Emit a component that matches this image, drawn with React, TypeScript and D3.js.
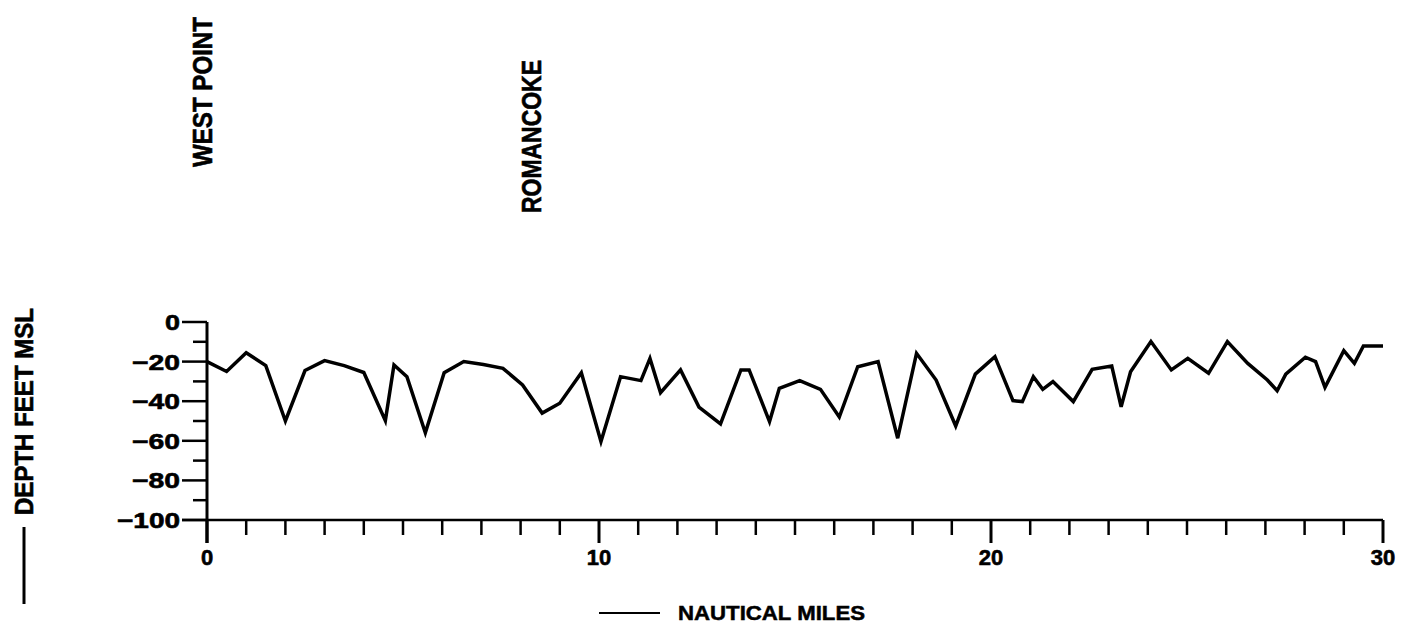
import * as d3 from 'd3';

// river profile: nautical miles from West Point vs. depth (feet, MSL)
const miles = [
  0, 0.5, 1.0, 1.5, 2.0, 2.5, 3.0, 3.5, 4.0, 4.55, 4.77, 5.1, 5.57, 6.05, 6.55, 7.05, 7.55, 8.05, 8.55,
  9.0, 9.55, 10.05, 10.55, 11.07, 11.3, 11.57, 12.08, 12.55, 13.1, 13.62, 13.83, 14.35, 14.6, 15.12,
  15.65, 16.13, 16.6, 17.12, 17.62, 18.1, 18.6, 19.1, 19.6, 20.1, 20.56, 20.8, 21.08, 21.32, 21.58,
  22.1, 22.58, 23.08, 23.32, 23.56, 24.08, 24.6, 25.02, 25.55, 26.03, 26.55, 27.05, 27.3, 27.52,
  28.02, 28.28, 28.52, 29.0, 29.27, 29.5, 30.0,
];
const depths = [
  -20, -25, -15.5, -22, -50, -24.5, -19.5, -22, -25.5, -49.8, -21.7, -27.6, -56, -25.6, -20, -21.5,
  -23.4, -31.8, -46, -41, -25.6, -60.4, -27.6, -29.6, -18.4, -35.7, -24.2, -43, -51.5, -24.2, -24.2,
  -50.3, -33.5, -29.6, -34, -48, -22.6, -20, -58.7, -15.8, -29.3, -52.5, -26.3, -17.5, -39.7, -40.2,
  -27.6, -34, -30.1, -40.2, -23.9, -22.2, -42.8, -25.1, -9.9, -24.2, -18.4, -25.9, -9.9, -20.9, -29.3,
  -34.7, -26.3, -17.8, -20, -33, -14.5, -20.9, -12.1, -12.1,
];
const places = ['WEST POINT', 'ROMANCOKE'];
const placeMiles = [0, 8.4];
const yTicks = [0, -10, -20, -30, -40, -50, -60, -70, -80, -90, -100];
const xTicks = d3.range(0, 31);
const xLabels = [0, 10, 20, 30];

const FONT = '"Liberation Sans", Arial, Helvetica, sans-serif';

// rough width of an old plotter label
const labelLen = (s: string) => s.replace('\u2212', '').length * 15 + (s.includes('\u2212') ? 18 : 0);

export default function App() {
  const x = d3.scaleLinear().domain([0, 30]).range([207, 1383]);
  const y = d3.scaleLinear().domain([-100, 0]).range([520, 322]);
  const pts: [number, number][] = miles.map((m, i) => [m, depths[i]]);
  const line = d3
    .line<[number, number]>()
    .x((d) => x(d[0]))
    .y((d) => y(d[1]));

  const placeBottom = [167, 213];
  const placeLen = [150, 153];

  return (
    <svg
      width={1404}
      height={640}
      style={{ position: 'absolute', left: 0, top: 0, background: '#fff' }}
      fontFamily={FONT}
      fontWeight="bold"
      stroke="none"
    >
      {/* place names */}
      {places.map((p, i) => (
        <text
          key={p}
          transform={`translate(${x(placeMiles[i]) + 5},${placeBottom[i]}) rotate(-90)`}
          fontSize={27}
          textLength={placeLen[i]}
          lengthAdjust="spacingAndGlyphs"
          stroke="#000"
          strokeWidth={0.6}
        >
          {p}
        </text>
      ))}

      {/* y axis */}
      <line x1={x(0)} x2={x(0)} y1={y(0)} y2={543} stroke="#000" strokeWidth={3} />
      {yTicks.map((t) => {
        const major = t % 20 === 0;
        const lab = t === 0 ? '0' : '\u2212' + Math.abs(t);
        return (
          <g key={t}>
            <line
              x1={major ? 182 : 193}
              x2={x(0)}
              y1={y(t)}
              y2={y(t)}
              stroke="#000"
              strokeWidth={2.5}
            />
            {major && (
              <text
                x={180}
                y={y(t)}
                dy="0.36em"
                textAnchor="end"
                fontSize={22}
                textLength={labelLen(lab)}
                lengthAdjust="spacingAndGlyphs"
                stroke="#000"
                strokeWidth={0.6}
              >
                {lab}
              </text>
            )}
          </g>
        );
      })}

      {/* x axis */}
      <line x1={182} x2={x(30)} y1={y(-100)} y2={y(-100)} stroke="#000" strokeWidth={2.5} />
      {xTicks.map((t) => (
        <line
          key={t}
          x1={x(t)}
          x2={x(t)}
          y1={y(-100)}
          y2={t % 10 === 0 ? 543 : 535}
          stroke="#000"
          strokeWidth={t % 10 === 0 ? 3 : 2.5}
        />
      ))}
      {xLabels.map((t) => (
        <text
          key={t}
          x={x(t)}
          y={565}
          textAnchor="middle"
          fontSize={22}
          stroke="#000"
          strokeWidth={0.6}
        >
          {t}
        </text>
      ))}

      {/* profile */}
      <path d={line(pts) ?? ''} fill="none" stroke="#000" strokeWidth={3.5} strokeLinejoin="miter" />

      {/* y title with legend stroke */}
      <line x1={24} x2={24} y1={527} y2={604} stroke="#000" strokeWidth={3} />
      <text
        transform="translate(33,515) rotate(-90)"
        fontSize={26}
        textLength={207}
        lengthAdjust="spacingAndGlyphs"
        stroke="#000"
        strokeWidth={0.6}
      >
        DEPTH FEET MSL
      </text>

      {/* x title with legend stroke */}
      <line x1={599} x2={660} y1={613} y2={613} stroke="#000" strokeWidth={2} />
      <text
        x={678}
        y={620}
        fontSize={20}
        textLength={187}
        lengthAdjust="spacingAndGlyphs"
        stroke="#000"
        strokeWidth={0.5}
      >
        NAUTICAL MILES
      </text>
    </svg>
  );
}
